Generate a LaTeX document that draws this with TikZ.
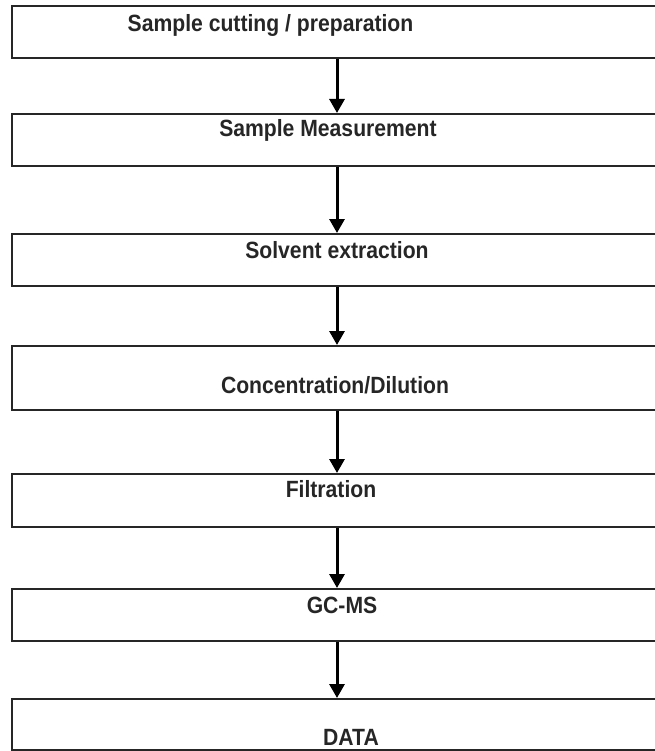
\documentclass[tikz,border=0pt]{standalone}
\usepackage{fontspec}
\newfontfamily\flowfont[FakeStretch=0.9]{Liberation Sans}
\usetikzlibrary{arrows.meta}

\begin{document}
\begin{tikzpicture}[
  x=1pt, y=-1pt,
  stage/.style   = {draw=black!85, line width=2pt, minimum width=650pt, inner sep=0pt},
  caption/.style = {anchor=base, inner sep=0pt, text=black!85,
                    font=\flowfont\bfseries\fontsize{23.5}{28}\selectfont},
  flow/.style    = {line width=3pt, -{Triangle[length=14pt,width=15pt]}},
]
  \useasboundingbox (0,0) rectangle (654,751);

  % the boxes run on past the right edge of the page
  \node[stage, minimum height=52pt] (cut)    at (337,32)    {};
  \node[stage, minimum height=52pt] (meas)   at (337,140)   {};
  \node[stage, minimum height=52pt] (solv)   at (337,260)   {};
  \node[stage, minimum height=64pt] (conc)   at (337,378)   {};
  \node[stage, minimum height=53pt] (filt)   at (337,500.5) {};
  \node[stage, minimum height=52pt] (gcms)   at (337,615)   {};
  \node[stage, minimum height=51pt] (data)   at (337,724.5) {};

  \node[caption] (cut text)  at (270.5,32) {Sample cutting / preparation};
  \node[caption] (meas text) at (328,137)  {Sample Measurement};
  \node[caption] (solv text) at (337,258)  {Solvent extraction};
  \node[caption] (conc text) at (335,393)  {Concentration/Dilution};
  \node[caption] (filt text) at (331,497)  {Filtration};
  \node[caption] (gcms text) at (342,613)  {GC-MS};
  \node[caption] (data text) at (351,745)  {DATA};

  \draw[flow] (cut)  -- (meas);
  \draw[flow] (meas) -- (solv);
  \draw[flow] (solv) -- (conc);
  \draw[flow] (conc) -- (filt);
  \draw[flow] (filt) -- (gcms);
  \draw[flow] (gcms) -- (data);
\end{tikzpicture}
\end{document}
